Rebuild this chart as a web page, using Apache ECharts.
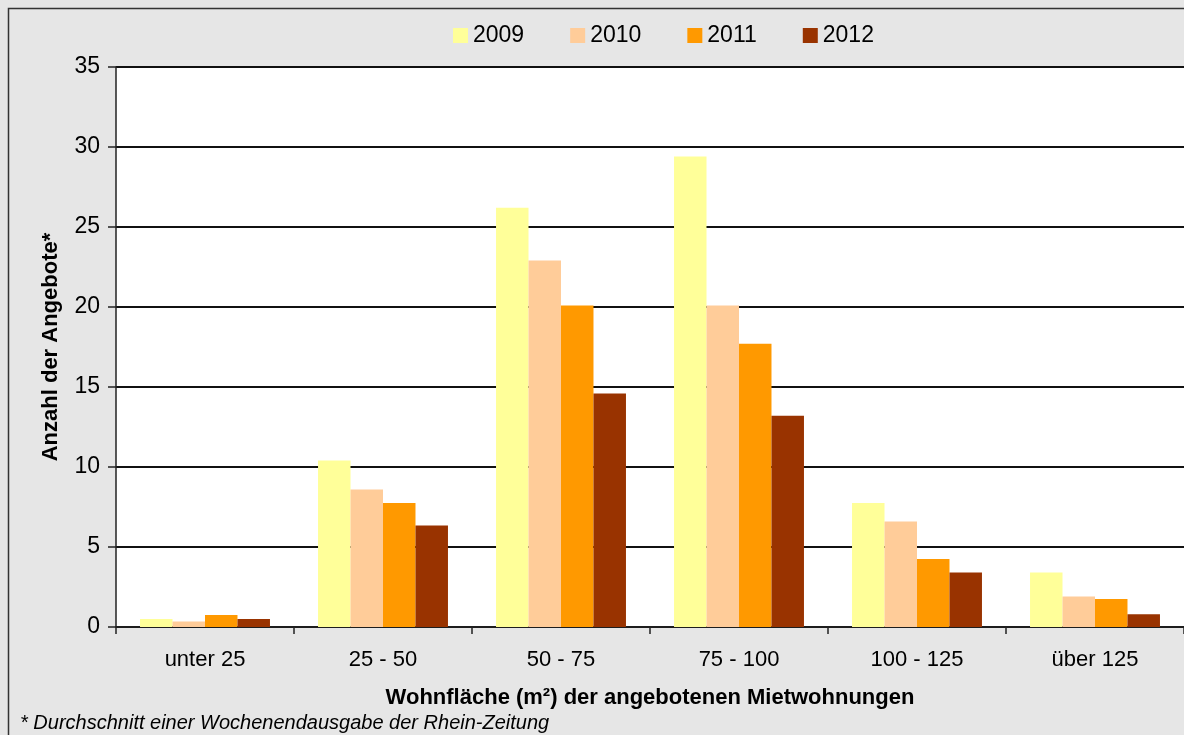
<!DOCTYPE html>
<html><head><meta charset="utf-8">
<script src="https://cdn.jsdelivr.net/npm/echarts@6/dist/echarts.min.js"></script>
<style>html,body{margin:0;padding:0;background:#fff}#c{width:1184px;height:735px}</style>
</head><body><div id="c"></div>
<script>
const categories = ['unter 25', '25 - 50', '50 - 75', '75 - 100', '100 - 125', 'über 125'];
const years = ['2009', '2010', '2011', '2012'];
const v2009 = [0.5, 10.4, 26.2, 29.4, 7.75, 3.4];
const v2010 = [0.35, 8.6, 22.9, 20.1, 6.6, 1.9];
const v2011 = [0.75, 7.75, 20.1, 17.7, 4.25, 1.75];
const v2012 = [0.5, 6.35, 14.6, 13.2, 3.4, 0.8];
const colors = ['#FFFF99', '#FFCC99', '#FF9900', '#993300'];
const seriesValues = [v2009, v2010, v2011, v2012];
const FONT = '"Liberation Sans", Arial, sans-serif';

const chart = echarts.init(document.getElementById('c'), null, {renderer: 'canvas'});
chart.setOption({
  backgroundColor: '#E6E6E6',
  animation: false,
  textStyle: {fontFamily: FONT},
  graphic: [
    {type: 'rect', shape: {x: 8.5, y: 8.5, width: 1200, height: 760}, style: {fill: 'none', stroke: '#333', lineWidth: 1.5}, z: 100},
    {type: 'text', left: 20, top: 713, style: {text: '* Durchschnitt einer Wochenendausgabe der Rhein-Zeitung', font: 'italic 20px "Liberation Sans", Arial, sans-serif', fill: '#000'}}
  ],
  legend: {
    left: 448, top: 19,
    itemWidth: 15, itemHeight: 15, itemGap: 46,
    icon: 'rect',
    textStyle: {fontSize: 23, color: '#000', fontFamily: FONT},
    data: years
  },
  grid: {left: 116, top: 67, width: 1070, bottom: 108, show: true, backgroundColor: '#fff', borderWidth: 0, containLabel: false},
  xAxis: {
    type: 'category', data: categories,
    axisLine: {lineStyle: {color: '#222', width: 1.5}},
    axisTick: {show: true, length: 7, lineStyle: {color: '#222', width: 1.5}},
    axisLabel: {fontSize: 22, color: '#000', margin: 22, fontFamily: FONT},
    name: 'Wohnfläche (m²) der angebotenen Mietwohnungen',
    nameLocation: 'middle', nameGap: 60,
    nameTextStyle: {fontSize: 22, fontWeight: 'bold', color: '#000', fontFamily: FONT}
  },
  yAxis: {
    type: 'value', min: 0, max: 35, interval: 5,
    axisLine: {show: true, lineStyle: {color: '#222', width: 1.5}},
    axisTick: {show: true, length: 8, lineStyle: {color: '#222', width: 1.5}},
    axisLabel: {fontSize: 23, color: '#000', margin: 16, fontFamily: FONT},
    splitLine: {lineStyle: {color: '#111', width: 2}},
    name: 'Anzahl der Angebote*',
    nameLocation: 'middle', nameGap: 54, nameRotate: 90,
    nameTextStyle: {fontSize: 22, fontWeight: 'bold', color: '#000', fontFamily: FONT}
  },
  series: years.map((y, i) => ({
    name: y, type: 'bar', data: seriesValues[i],
    itemStyle: {color: colors[i]},
    barGap: '0%', barCategoryGap: '27%'
  }))
});
</script></body></html>
